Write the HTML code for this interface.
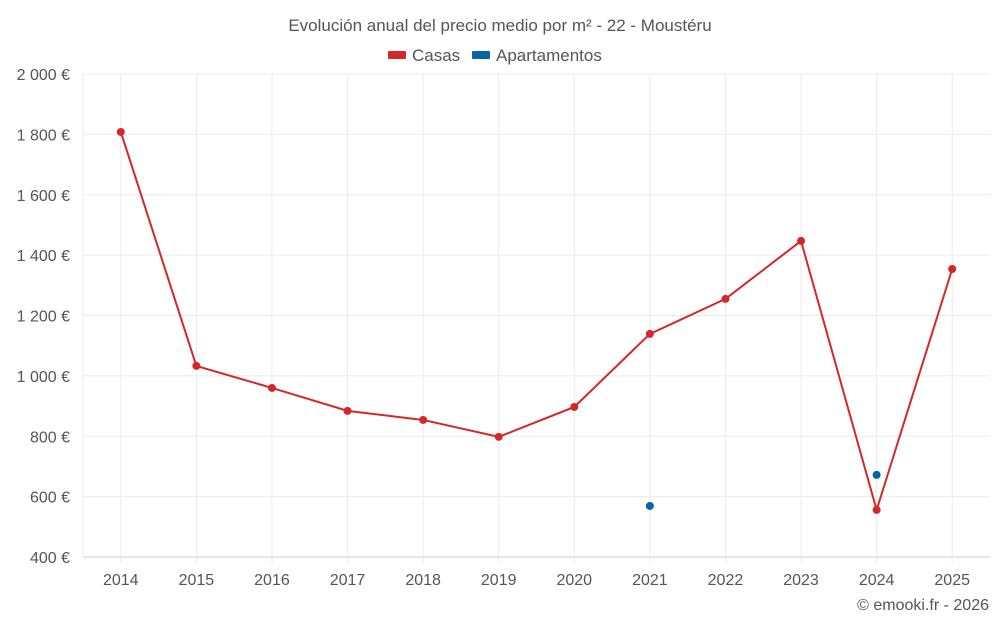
<!DOCTYPE html>
<html><head><meta charset="utf-8"><style>
body{margin:0;background:#fff;font-family:"Liberation Sans",sans-serif}
svg text{font-family:"Liberation Sans",sans-serif;fill:#555}
</style></head><body>
<svg id="c" width="1000" height="625">
<text x="500" y="31" text-anchor="middle" font-size="17">Evolución anual del precio medio por m² - 22 - Moustéru</text>
<g>
<g><rect x="388" y="51" width="18" height="8" fill="#d62728" rx="1"/><text x="412" y="61" font-size="17">Casas</text></g>
<g><rect x="472" y="51" width="18" height="8" fill="#0565a5" rx="1"/><text x="496" y="61" font-size="17">Apartamentos</text></g>
</g>
<g id="grid"></g>
<g id="axes"></g>
<g id="marks"></g>
<text x="989" y="610" text-anchor="end" font-size="16">© emooki.fr - 2026</text>
</svg>
<script>
const years=[2014,2015,2016,2017,2018,2019,2020,2021,2022,2023,2024,2025];
const casas=[1808,1033,960,884,854,798,897,1139,1255,1447,556,1354];
const apartamentos=[null,null,null,null,null,null,null,569,null,null,672,null];
const yTicks=[400,600,800,1000,1200,1400,1600,1800,2000];
const yTickLabels=["400 €","600 €","800 €","1 000 €","1 200 €","1 400 €","1 600 €","1 800 €","2 000 €"];
const NS="http://www.w3.org/2000/svg";
const L=83,R=990,T=74,B=557,step=(R-L)/years.length;
const x=i=>L+step*(i+0.5);
const y=v=>B-(v-400)/1600*(B-T);
function mk(tag,attrs,parent){const e=document.createElementNS(NS,tag);for(const k in attrs)e.setAttribute(k,attrs[k]);document.getElementById(parent).appendChild(e);return e;}
yTicks.forEach((t,i)=>{
 const g=mk('line',{x1:L,x2:R,y1:y(t),y2:y(t),stroke:i==0?'#ccc':'#ebebeb'},'grid');
 
 
 const tx=mk('text',{x:70,y:y(t)+6,'text-anchor':'end','font-size':16},'axes');tx.textContent=yTickLabels[i];
 
 
});
const lb=mk('line',{x1:L,x2:L,y1:T,y2:B,stroke:'#ebebeb'},'grid');


years.forEach((yr,i)=>{
 const g=mk('line',{x1:x(i),x2:x(i),y1:T,y2:B+6,stroke:'#ebebeb'},'grid');
 
 
 const tx=mk('text',{x:x(i),y:585,'text-anchor':'middle','font-size':16},'axes');tx.textContent=yr;
 
 
});
const pts=casas.map((v,i)=>x(i)+','+y(v)).join(' ');
const pl=mk('polyline',{points:pts,fill:'none',stroke:'#d62728','stroke-width':2},'marks');


casas.forEach((v,i)=>{
 const c=mk('circle',{cx:x(i),cy:y(v),r:4,fill:'#d62728'},'marks');
 
 
});
apartamentos.forEach((v,i)=>{
 if(v==null)return;
 const c=mk('circle',{cx:x(i),cy:y(v),r:4,fill:'#0565a5'},'marks');
 
 
});
</script>
</body></html>
